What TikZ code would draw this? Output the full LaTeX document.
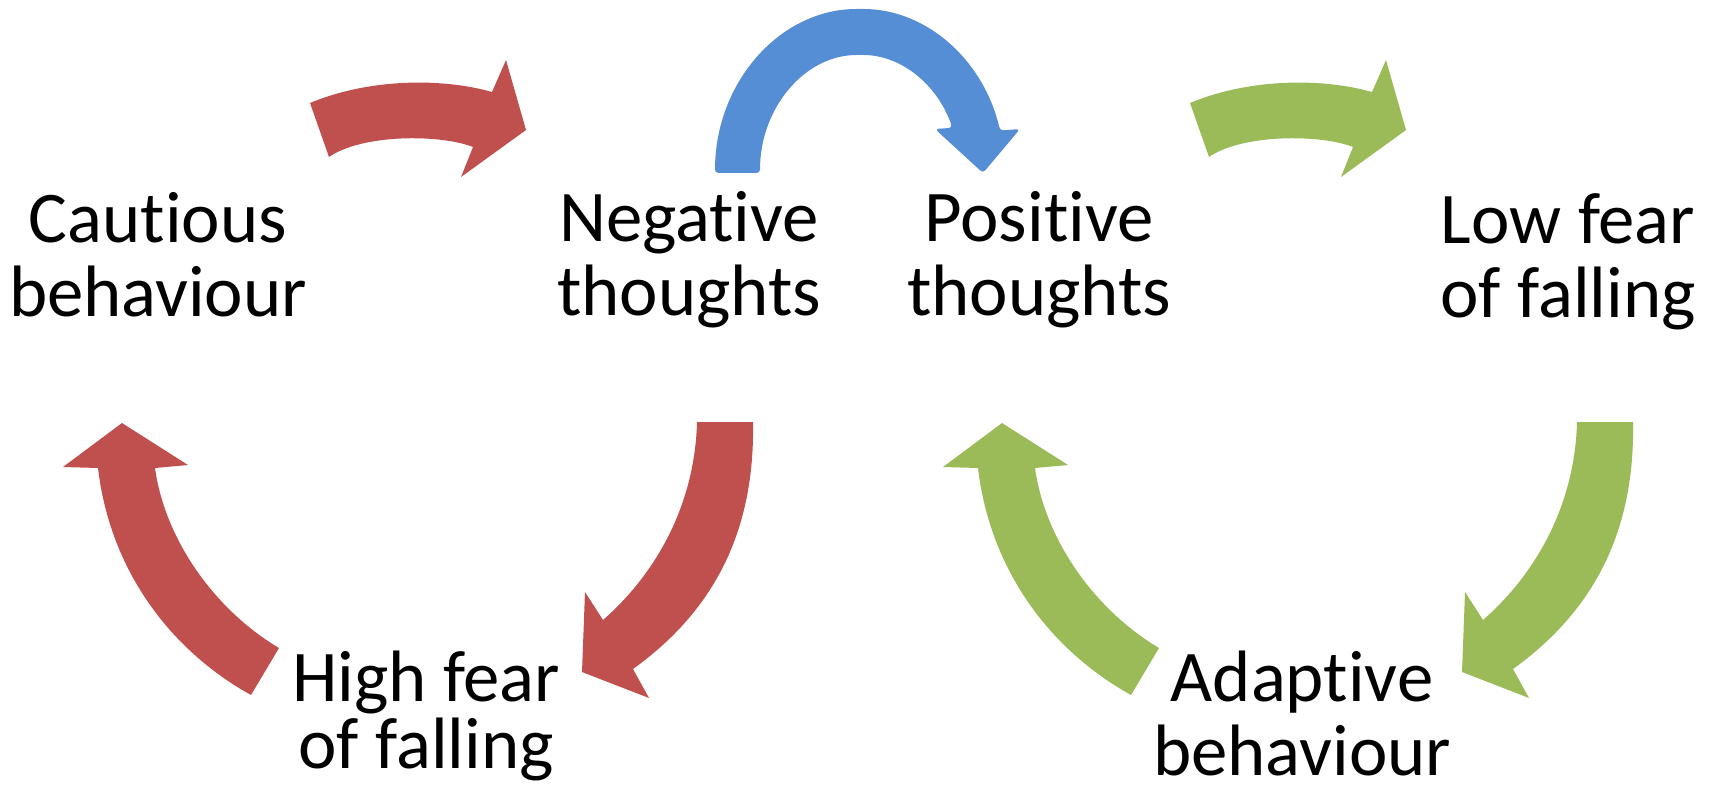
\documentclass[tikz,border=0pt]{standalone}
\usepackage{fontspec}
\setmainfont{Carlito}[Ligatures=NoCommon]
\definecolor{loopred}{HTML}{C0504D}
\definecolor{loopgreen}{HTML}{9BBB59}
\definecolor{loopblue}{HTML}{558ED5}
\lineskiplimit=-20pt
\tikzset{
	loop text/.style={align=center, anchor=base, font=\fontsize{20.7}{20.8}\selectfont},
}
% bent arrow shapes, in pixel units of the picture
\newcommand{\overbend}{(310,103) .. controls (370,78) and (443,78) .. (492,92) -- (506,60) -- (526,130) -- (461,177) -- (473,147) .. controls (440,134) and (362,134) .. (329,157) -- cycle}
\newcommand{\downbend}{(697,422) -- (753,422) .. controls (755,530) and (715,610) .. (633,669) -- (649,698) -- (582,672) -- (585,592) -- (603,620) .. controls (660,570) and (695,500) .. (697,422) -- cycle}
\newcommand{\upbend}{(122,423) -- (188,465) -- (155,468) .. controls (165,540) and (215,610) .. (279,648) -- (251,695) .. controls (170,650) and (110,570) .. (98,468) -- (63,467) -- cycle}
\begin{document}
\begin{tikzpicture}[x=0.01cm, y=-0.01cm]
		\useasboundingbox (0,0) rectangle (1713,794);
		% negative loop
		\fill[loopred] \overbend;
		\fill[loopred] \downbend;
		\fill[loopred] \upbend;
		% positive loop
		\begin{scope}[shift={(880,0)}]
			\fill[loopgreen] \overbend;
			\fill[loopgreen] \downbend;
			\fill[loopgreen] \upbend;
		\end{scope}
		% switch from negative to positive
		\fill[loopblue, rounded corners=1pt] (715,173) .. controls (715,82.4) and (779.9,9) .. (860,9)
			.. controls (925.6,9) and (983.1,58.9) .. (1000.1,130.6)
			-- (1020,129) -- (983,173) -- (935,129) -- (952.4,127.8)
			.. controls (936.9,83.7) and (900.4,55) .. (860,55)
			.. controls (804.8,55) and (760,107.8) .. (760,173) -- cycle;
		\node[loop text] (caut) at (158,316) {Cautious\\behaviour};
		\node[loop text] (neg) at (689,315) {Negative\\thoughts};
		\node[loop text] (pos) at (1039,315) {Positive\\thoughts};
		\node[loop text] (low) at (1568,317) {Low fear\\of falling};
		\node[loop text, font=\fontsize{20.7}{18.8}\selectfont] (high) at (426,768) {High fear\\of falling};
		\node[loop text] (adap) at (1302,775) {Adaptive\\behaviour};
	\end{tikzpicture}
\end{document}
